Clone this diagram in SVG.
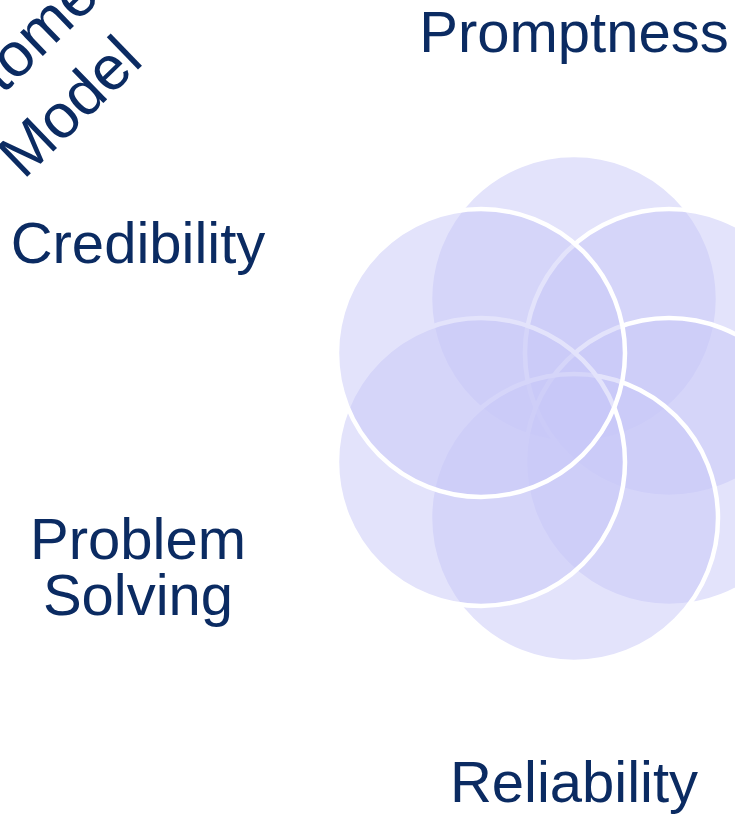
<svg xmlns="http://www.w3.org/2000/svg" width="735" height="814" viewBox="0 0 735 814">
<style>
.c{fill:#C8C8F8;fill-opacity:0.5;stroke:#FFFFFF;stroke-width:4.5}
.t{font-family:"Liberation Sans",Arial,sans-serif;font-size:58px;fill:#0B2B62;text-anchor:middle}
.h{font-size:62px}
</style>
<rect width="735" height="814" fill="#FFFFFF"/>
<g id="title" transform="rotate(-44)">
<text class="t h" x="-40" y="70">Customer</text>
<text class="t h" x="-24" y="146">Model</text>
</g>
<g id="circles">
<circle id="c-top" class="c" cx="574" cy="299" r="144"/>
<circle id="c-ur" class="c" cx="669" cy="353" r="144"/>
<circle id="c-lr" class="c" cx="669" cy="462" r="144"/>
<circle id="c-bottom" class="c" cx="574" cy="518" r="144"/>
<circle id="c-ll" class="c" cx="481" cy="462" r="144"/>
<circle id="c-ul" class="c" cx="481" cy="353" r="144"/>
</g>
<g id="labels">
<text id="promptness" class="t" x="574" y="52">Promptness</text>
<text id="credibility" class="t" x="138" y="263">Credibility</text>
<g id="problem-solving"><text class="t" x="138" y="559">Problem</text><text class="t" x="138" y="615">Solving</text></g>
<text id="reliability" class="t" x="574" y="802">Reliability</text>
</g>
</svg>
